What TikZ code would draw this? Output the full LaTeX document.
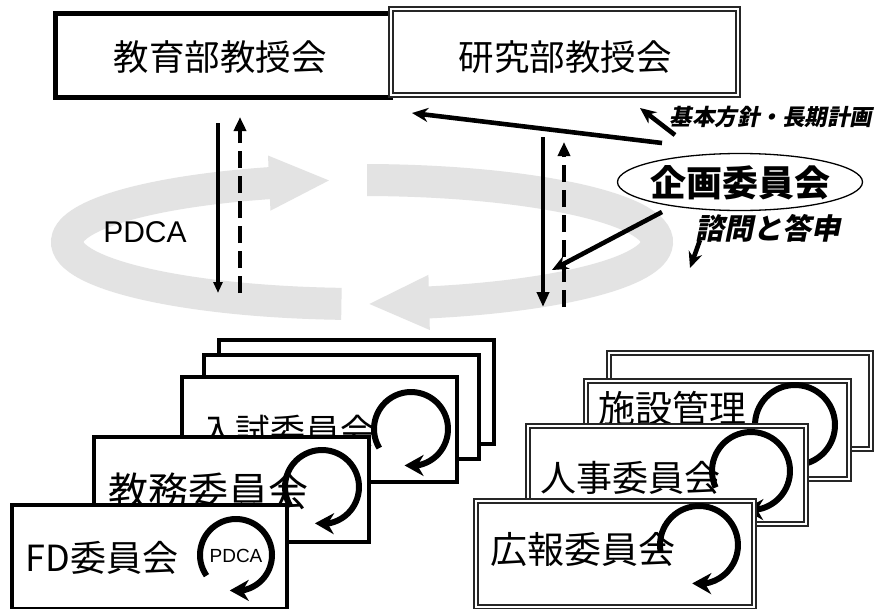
\documentclass[tikz,border=0pt]{standalone}
\usepackage{fontspec}
\setmainfont{Noto Sans CJK JP}
\newfontfamily\jpit[FakeSlant=0.2]{Noto Sans CJK JP}
\newfontfamily\lat{Liberation Sans}
\usetikzlibrary{arrows.meta,bending,shapes.geometric}
\newcommand{\fs}[1]{\fontsize{#1pt}{#1pt}\selectfont}
\begin{document}
\begin{tikzpicture}[x=1pt,y=1pt,
  sbox/.style={draw=black, line width=4.2pt, fill=white, inner sep=0pt, anchor=north west},
  dbox/.style={draw=black!85, double=white, double distance=1.4pt, line width=1.9pt, fill=white, inner sep=0pt, anchor=north west},
  jtxt/.style={inner sep=0pt},
  ring/.style={draw=black!11, line width=32pt, -{Triangle[width=50pt,length=62pt]}},
  arr/.style={line width=4.6pt, -{Stealth[length=16pt,width=14pt]}},
  varr/.style={line width=3.8pt, -{Triangle[length=15pt,width=12pt]}},
  darr/.style={line width=4pt, dash pattern=on 17pt off 8pt, -{Triangle[length=14pt,width=12pt]}},
  cyc/.style={line width=6pt, -{Stealth[length=19pt,width=21pt]}},
]
\useasboundingbox (0,0) rectangle (880,-608);
\fill[white] (0,0) rectangle (880,-608);

% gray PDCA ring
\coordinate (ringc) at (362,-242);
\draw[ring] ([shift={(266:295 and 62)}]ringc) arc[start angle=266,end angle=96,x radius=295,y radius=62];
\draw[ring] ([shift={(89:295 and 62)}]ringc) arc[start angle=89,end angle=-89,x radius=295,y radius=62];
\node[jtxt,font=\lat\fs{30}] (pdca) at (145,-232) {PDCA};

% top boxes
\node[sbox, line width=4.6pt, minimum width=335pt, minimum height=84pt] (edu) at (53,-11) {};
\node[jtxt,font=\fs{35.5}] (edut) at (220,-57) {教育部教授会};
\node[dbox, minimum width=347pt, minimum height=86pt] (res) at (390,-8) {};
\node[jtxt,font=\fs{35.5}] (rest) at (565,-57) {研究部教授会};

% vertical arrows
\coordinate (l1a) at (218,-123); \coordinate (l1b) at (218,-293);
\coordinate (l2a) at (240,-293); \coordinate (l2b) at (240,-117);
\coordinate (r1a) at (543,-137); \coordinate (r1b) at (543,-307);
\coordinate (r2a) at (564,-307); \coordinate (r2b) at (564,-142);
\draw[varr, -{Triangle[length=11pt,width=9pt]}] (l1a) -- (l1b);
\draw[darr] (l2a) -- (l2b);
\draw[varr] (r1a) -- (r1b);
\draw[darr] (r2a) -- (r2b);

% planning committee
\node[ellipse, draw, line width=1.3pt, minimum width=245pt, minimum height=57pt, inner sep=0pt] (plan) at (740,-182) {};
\node[jtxt,font=\fs{36}\bfseries] (plant) at (740,-183) {企画委員会};
\node[jtxt,font=\jpit\fs{22.5}\bfseries] (kihon) at (771,-117) {基本方針・長期計画};
\node[jtxt,font=\jpit\fs{29}\bfseries] (shimon) at (768,-228) {諮問と答申};
\coordinate (p1a) at (662,-143); \coordinate (p1b) at (412,-113);
\coordinate (p2a) at (675,-135); \coordinate (p2b) at (640,-108);
\coordinate (p3a) at (662,-212); \coordinate (p3b) at (552,-270);
\coordinate (p4a) at (700,-240); \coordinate (p4b) at (690,-268);
\draw[arr] (p1a) -- (p1b);
\draw[arr] (p2a) -- (p2b);
\draw[arr] (p3a) -- (p3b);
\draw[arr] (p4a) -- (p4b);

% left stack
\node[sbox, minimum width=275pt, minimum height=104pt] (lb1) at (217,-338) {};
\node[sbox, minimum width=275pt, minimum height=104pt] (lb2) at (202,-353) {};
\node[sbox, minimum width=275pt, minimum height=105pt] (nyu) at (180,-375) {};
\node[jtxt,font=\fs{35}] (nyut) at (288,-431) {入試委員会};
\coordinate (cn) at (411,-429);
\draw[cyc] ([shift={(211:37)}]cn) arc[start angle=211,end angle=-100,radius=37];
\node[sbox, minimum width=275pt, minimum height=105pt] (kyo) at (92,-435) {};
\node[jtxt,font=\fs{40}] (kyot) at (208,-491) {教務委員会};
\coordinate (ck) at (322,-487);
\draw[cyc] ([shift={(212:37)}]ck) arc[start angle=212,end angle=-101,radius=37];
\node[sbox, minimum width=275pt, minimum height=104pt] (fd) at (10,-503) {};
\node[jtxt,font=\fs{36}] (fdt) at (102,-558) {FD委員会};
\coordinate (cf) at (236,-555);
\draw[cyc] ([shift={(215:36)}]cf) arc[start angle=215,end angle=-100,radius=36];
\node[jtxt,font=\lat\fs{19}] (fdp) at (236,-556) {PDCA};

% right stack
\node[dbox, minimum width=262pt, minimum height=96pt] (rb1) at (608,-352) {};
\node[dbox, minimum width=263pt, minimum height=98pt] (shi) at (585,-380) {};
\node[jtxt,font=\fs{37}] (shit) at (672,-408) {施設管理};
\coordinate (cs) at (795,-425);
\draw[cyc] ([shift={(210:40)}]cs) arc[start angle=210,end angle=-100,radius=40];
\node[dbox, minimum width=278pt, minimum height=98pt] (jin) at (527,-425) {};
\node[jtxt,font=\fs{36}] (jint) at (630,-478) {人事委員会};
\coordinate (cj) at (751,-471);
\draw[cyc] ([shift={(205:39)}]cj) arc[start angle=205,end angle=-100,radius=39];
\node[dbox, minimum width=278pt, minimum height=106pt] (kou) at (475,-500) {};
\node[jtxt,font=\fs{37}] (kout) at (583,-550) {広報委員会};
\coordinate (ch) at (699,-545);
\draw[cyc] ([shift={(190:39)}]ch) arc[start angle=190,end angle=-100,radius=39];
\end{tikzpicture}
\end{document}
